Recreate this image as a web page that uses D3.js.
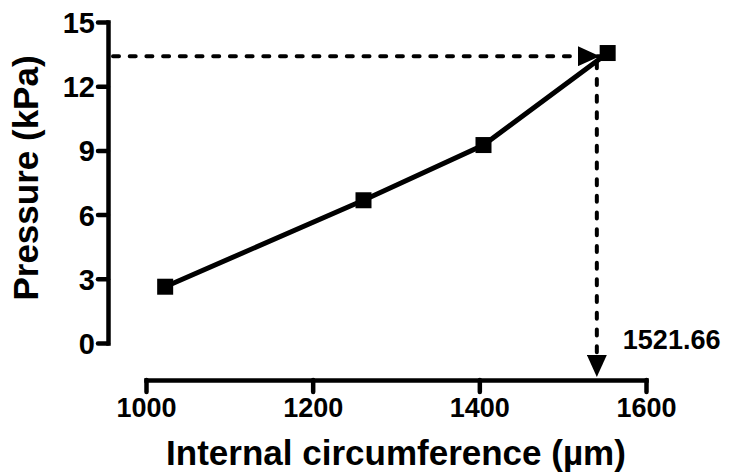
<!DOCTYPE html>
<html>
<head>
<meta charset="utf-8">
<script src="https://cdn.jsdelivr.net/npm/d3@7"></script>
<style>
  body { margin: 0; background: #fff; }
  text { font-family: "Liberation Sans", Arial, sans-serif; font-weight: bold; fill: #000; }
</style>
</head>
<body>
<div id="chart"></div>
<script>
const circumference = [1023, 1261, 1405, 1554];
const pressure = [2.63, 6.67, 9.25, 13.55];
const xTicks = [1000, 1200, 1400, 1600];
const yTicks = [0, 3, 6, 9, 12, 15];
const guideX = 1541;
const guideY = 13.4;
const guideLabel = "1521.66";

const width = 730, height = 475;

const svg = d3.select("#chart")
  .append("svg")
  .attr("width", width)
  .attr("height", height);

const x = d3.scaleLinear().domain([1000, 1600]).range([146, 646]);
const y = d3.scaleLinear().domain([0, 15]).range([343, 22]);

const xAxisY = 380, yAxisX = 108;

// arrow head marker
svg.append("defs").append("marker")
  .attr("id", "arrow")
  .attr("markerUnits", "userSpaceOnUse")
  .attr("viewBox", "0 0 22 20")
  .attr("refX", 22)
  .attr("refY", 10)
  .attr("markerWidth", 22)
  .attr("markerHeight", 20)
  .attr("orient", "auto")
  .append("path")
  .attr("d", "M0,0L22,10L0,20Z")
  .attr("fill", "#000");

// x axis
const xAxis = svg.append("g")
  .attr("transform", `translate(0,${xAxisY})`)
  .call(d3.axisBottom(x).tickValues(xTicks).tickFormat(d3.format("d"))
    .tickSize(12).tickSizeOuter(0).tickPadding(6));

// y axis
const yAxis = svg.append("g")
  .attr("transform", `translate(${yAxisX},0)`)
  .call(d3.axisLeft(y).tickValues(yTicks).tickFormat(d3.format("d"))
    .tickSize(10).tickSizeOuter(0).tickPadding(3));

[xAxis, yAxis].forEach(g => {
  g.attr("font-family", null).attr("font-size", null);
  g.select(".domain").attr("stroke", "#000").attr("stroke-width", 4.5).attr("stroke-linecap", "square");
  g.selectAll(".tick line").attr("stroke", "#000").attr("stroke-width", 4.5).attr("stroke-linecap", "round");
  g.selectAll(".tick text").attr("fill", "#000");
});
xAxis.selectAll(".tick text").style("font-size", "27px");
yAxis.selectAll(".tick text").style("font-size", "29px").attr("dy", "0.36em");

// axis titles
svg.append("text")
  .attr("x", 396)
  .attr("y", 465)
  .attr("text-anchor", "middle")
  .style("font-size", "35px")
  .text("Internal circumference (µm)");

svg.append("text")
  .attr("transform", "translate(38,178) rotate(-90)")
  .attr("text-anchor", "middle")
  .style("font-size", "35px")
  .text("Pressure (kPa)");

// data line
const pts = circumference.map((c, i) => [c, pressure[i]]);
const line = d3.line().x(d => x(d[0])).y(d => y(d[1]));

svg.append("path")
  .datum(pts)
  .attr("d", line)
  .attr("fill", "none")
  .attr("stroke", "#000")
  .attr("stroke-width", 5);

// guide arrows
svg.append("line")
  .attr("x1", yAxisX + 5)
  .attr("y1", y(guideY))
  .attr("x2", x(guideX) + 3)
  .attr("y2", y(guideY))
  .attr("stroke", "#000")
  .attr("stroke-width", 4)
  .attr("stroke-dasharray", "6 10.7")
  .attr("stroke-linecap", "round")
  .attr("marker-end", "url(#arrow)");

svg.append("line")
  .attr("x1", x(guideX))
  .attr("y1", y(guideY) + 6)
  .attr("x2", x(guideX))
  .attr("y2", xAxisY - 3)
  .attr("stroke", "#000")
  .attr("stroke-width", 4)
  .attr("stroke-dasharray", "6 10.7")
  .attr("stroke-linecap", "round")
  .attr("marker-end", "url(#arrow)");

svg.append("text")
  .attr("x", x(guideX) + 26)
  .attr("y", 349)
  .style("font-size", "27px")
  .text(guideLabel);

// markers
svg.selectAll(".pt")
  .data(pts)
  .join("rect")
  .attr("class", "pt")
  .attr("x", d => x(d[0]) - 8)
  .attr("y", d => y(d[1]) - 8)
  .attr("width", 16)
  .attr("height", 16)
  .attr("fill", "#000");
</script>
</body>
</html>
